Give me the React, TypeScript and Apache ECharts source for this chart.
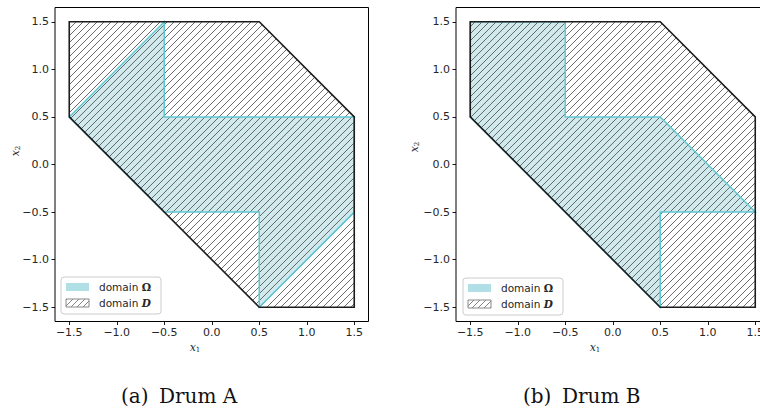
import React, { useEffect, useRef } from "react";
import * as echarts from "echarts";

// ---- data ----
const tickValues = [-1.5, -1.0, -0.5, 0.0, 0.5, 1.0, 1.5];
const axisMin = -1.65;
const axisMax = 1.65;

// domain D (outer hexagon), same in both panels
const domainDX = [-1.5, 0.5, 1.5, 1.5, 0.5, -1.5];
const domainDY = [1.5, 1.5, 0.5, -1.5, -1.5, 0.5];

// domain Omega, Drum A
const omegaAX = [-1.5, -0.5, -0.5, 1.5, 1.5, 0.5, 0.5, -0.5];
const omegaAY = [0.5, 1.5, 0.5, 0.5, -0.5, -1.5, -0.5, -0.5];

// domain Omega, Drum B
const omegaBX = [-1.5, -0.5, -0.5, 0.5, 1.5, 0.5, 0.5, -1.5];
const omegaBY = [1.5, 1.5, 0.5, 0.5, -0.5, -0.5, -1.5, 0.5];

const captions = ["(a)", "Drum A", "(b)", "Drum B"];
const legendLabels = ["domain ", "Ω", "domain ", "D"];

// ---- styles ----
const OMEGA_FILL = "#cfe9ed";
const OMEGA_EDGE = "#5fc8d3";
const LEGEND_PATCH = "#b0e0e6";
const HATCH = "#5a5a5a";
const D_EDGE = "#1c1c1c";
const HATCH_STEP = 7;

const zip = (xs: number[], ys: number[]) => xs.map((x, i) => [x, ys[i]]);

function hatchSegments(pts: number[][], step: number) {
  let cMin = Infinity;
  let cMax = -Infinity;
  pts.forEach((p) => {
    const c = p[0] + p[1];
    cMin = Math.min(cMin, c);
    cMax = Math.max(cMax, c);
  });
  const segs: number[][][] = [];
  for (let c = Math.ceil(cMin / step) * step; c <= cMax; c += step) {
    const hits: number[][] = [];
    for (let i = 0; i < pts.length; i++) {
      const a = pts[i];
      const b = pts[(i + 1) % pts.length];
      const fa = a[0] + a[1] - c;
      const fb = b[0] + b[1] - c;
      if ((fa <= 0 && fb >= 0) || (fa >= 0 && fb <= 0)) {
        if (fa === fb) {
          hits.push(a, b);
        } else {
          const t = fa / (fa - fb);
          hits.push([a[0] + t * (b[0] - a[0]), a[1] + t * (b[1] - a[1])]);
        }
      }
    }
    if (hits.length >= 2) {
      hits.sort((p, q) => p[0] - q[0]);
      const p0 = hits[0];
      const p1 = hits[hits.length - 1];
      if (Math.abs(p1[0] - p0[0]) > 0.3) segs.push([p0, p1]);
    }
  }
  return segs;
}

function polySeries(idx: number, verts: number[][], layer: string, z: number) {
  return {
    type: "custom",
    coordinateSystem: "cartesian2d",
    xAxisIndex: idx,
    yAxisIndex: idx,
    z,
    silent: true,
    data: verts,
    encode: { x: 0, y: 1 },
    renderItem: (params: any, api: any) => {
      if (params.dataIndex !== 0) return null;
      const pts = verts.map((v) => api.coord(v));
      if (layer === "fill") {
        return { type: "polygon", shape: { points: pts }, style: { fill: OMEGA_FILL, stroke: "none" } };
      }
      if (layer === "omegaEdge") {
        return {
          type: "polygon",
          shape: { points: pts },
          style: { fill: "none", stroke: OMEGA_EDGE, lineWidth: 1.5, lineJoin: "miter" },
        };
      }
      if (layer === "hatch") {
        const segs = hatchSegments(pts, HATCH_STEP);
        return {
          type: "group",
          children: segs.map((s) => ({
            type: "line",
            shape: { x1: s[0][0], y1: s[0][1], x2: s[1][0], y2: s[1][1] },
            style: { stroke: HATCH, lineWidth: 0.9 },
          })),
        };
      }
      return {
        type: "polygon",
        shape: { points: pts },
        style: { fill: "none", stroke: D_EDGE, lineWidth: 1.6, lineJoin: "miter" },
      };
    },
  };
}

const fmt = (v: number) => (v < 0 ? "\u2212" : "") + Math.abs(v).toFixed(1);

function makeAxis(idx: number, isX: boolean) {
  return {
    type: "value",
    gridIndex: idx,
    min: axisMin,
    max: axisMax,
    position: isX ? "bottom" : "left",
    axisLine: { show: false, onZero: false },
    splitLine: { show: false },
    axisTick: {
      show: true,
      inside: false,
      length: 3.5,
      customValues: tickValues,
      lineStyle: { color: "#000", width: 0.9 },
    },
    axisLabel: {
      customValues: tickValues,
      formatter: fmt,
      color: "#262626",
      fontFamily: "DejaVu Sans",
      fontSize: 11,
      margin: isX ? 5 : 6,
      showMinLabel: true,
      showMaxLabel: true,
    },
  };
}

function legendGraphic(x0: number, y0: number) {
  const hatchBox = [
    [x0 + 5, y0 + 22],
    [x0 + 28, y0 + 22],
    [x0 + 28, y0 + 30],
    [x0 + 5, y0 + 30],
  ];
  const segs = hatchSegments(hatchBox, 6);
  return [
    {
      type: "rect",
      shape: { x: x0, y: y0, width: 100, height: 37, r: 3 },
      style: { fill: "rgba(255,255,255,0.8)", stroke: "#cccccc", lineWidth: 1 },
      z: 100,
    },
    {
      type: "rect",
      shape: { x: x0 + 5, y: y0 + 6, width: 23, height: 8 },
      style: { fill: LEGEND_PATCH },
      z: 101,
    },
    ...segs.map((s) => ({
      type: "line",
      shape: { x1: s[0][0], y1: s[0][1], x2: s[1][0], y2: s[1][1] },
      style: { stroke: "#777", lineWidth: 0.9 },
      z: 101,
    })),
    {
      type: "rect",
      shape: { x: x0 + 5, y: y0 + 22, width: 23, height: 8 },
      style: { fill: "none", stroke: "#888", lineWidth: 1 },
      z: 102,
    },
    {
      type: "text",
      x: x0 + 38,
      y: y0 + 10,
      z: 102,
      style: {
        text: `{a|${legendLabels[0]}}{b|${legendLabels[1]}}`,
        verticalAlign: "middle",
        rich: {
          a: { fontFamily: "DejaVu Sans", fontSize: 10.5, fill: "#262626" },
          b: { fontFamily: "DejaVu Serif", fontWeight: "bold", fontSize: 10.5, fill: "#262626" },
        },
      },
    },
    {
      type: "text",
      x: x0 + 38,
      y: y0 + 26,
      z: 102,
      style: {
        text: `{a|${legendLabels[2]}}{b|${legendLabels[3]}}`,
        verticalAlign: "middle",
        rich: {
          a: { fontFamily: "DejaVu Sans", fontSize: 10.5, fill: "#262626" },
          b: {
            fontFamily: "DejaVu Serif",
            fontWeight: "bold",
            fontStyle: "italic",
            fontSize: 10.5,
            fill: "#262626",
          },
        },
      },
    },
  ];
}

const axisNameRich = {
  i: { fontFamily: "DejaVu Serif", fontStyle: "italic", fontSize: 11, fill: "#262626" },
  s: { fontFamily: "DejaVu Serif", fontSize: 7, fill: "#262626", padding: [6, 0, 0, 0] },
};

function axisNames(xCx: number, yCx: number, yCy: number) {
  return [
    {
      type: "text",
      x: xCx,
      y: 347,
      style: { text: "{i|x}{s|1}", align: "center", verticalAlign: "middle", rich: axisNameRich },
    },
    {
      type: "text",
      x: yCx,
      y: yCy,
      rotation: Math.PI / 2,
      style: { text: "{i|x}{s|2}", align: "center", verticalAlign: "middle", rich: axisNameRich },
    },
  ];
}

const captionStyle = { fontFamily: "DejaVu Serif", fontSize: 20, fill: "#111", verticalAlign: "middle" };

export default function App() {
  const ref = useRef<HTMLDivElement>(null);
  useEffect(() => {
    if (!ref.current) return;
    const chart = echarts.init(ref.current, null, { renderer: "svg" });
    const dPts = zip(domainDX, domainDY);
    const aPts = zip(omegaAX, omegaAY);
    const bPts = zip(omegaBX, omegaBY);
    chart.setOption({
      animation: false,
      backgroundColor: "#ffffff",
      grid: [
        { left: 55, top: 7.5, width: 313.5, height: 314, outerBoundsMode: "none", containLabel: false, show: true, borderColor: "#000", borderWidth: 1, backgroundColor: "transparent" },
        { left: 456, top: 7.5, width: 313.5, height: 314, outerBoundsMode: "none", containLabel: false, show: true, borderColor: "#000", borderWidth: 1, backgroundColor: "transparent" },
      ],
      xAxis: [makeAxis(0, true), makeAxis(1, true)],
      yAxis: [makeAxis(0, false), makeAxis(1, false)],
      series: [
        polySeries(0, aPts, "fill", 1),
        polySeries(0, dPts, "hatch", 2),
        polySeries(0, aPts, "omegaEdge", 3),
        polySeries(0, dPts, "dEdge", 4),
        polySeries(1, bPts, "fill", 1),
        polySeries(1, dPts, "hatch", 2),
        polySeries(1, bPts, "omegaEdge", 3),
        polySeries(1, dPts, "dEdge", 4),
      ],
      graphic: [
        ...legendGraphic(61, 277),
        ...legendGraphic(463, 278),
        ...axisNames(195, 15, 151),
        ...axisNames(595, 414, 147),
        { type: "text", x: 121, y: 396, style: { ...captionStyle, text: captions[0] } },
        { type: "text", x: 159, y: 396, style: { ...captionStyle, text: captions[1] } },
        { type: "text", x: 523, y: 396, style: { ...captionStyle, text: captions[2] } },
        { type: "text", x: 562, y: 396, style: { ...captionStyle, text: captions[3] } },
      ],
    });
    return () => chart.dispose();
  }, []);
  return (
    <div
      ref={ref}
      style={{ position: "fixed", left: 0, top: 0, width: 760, height: 409, background: "#fff" }}
    />
  );
}
